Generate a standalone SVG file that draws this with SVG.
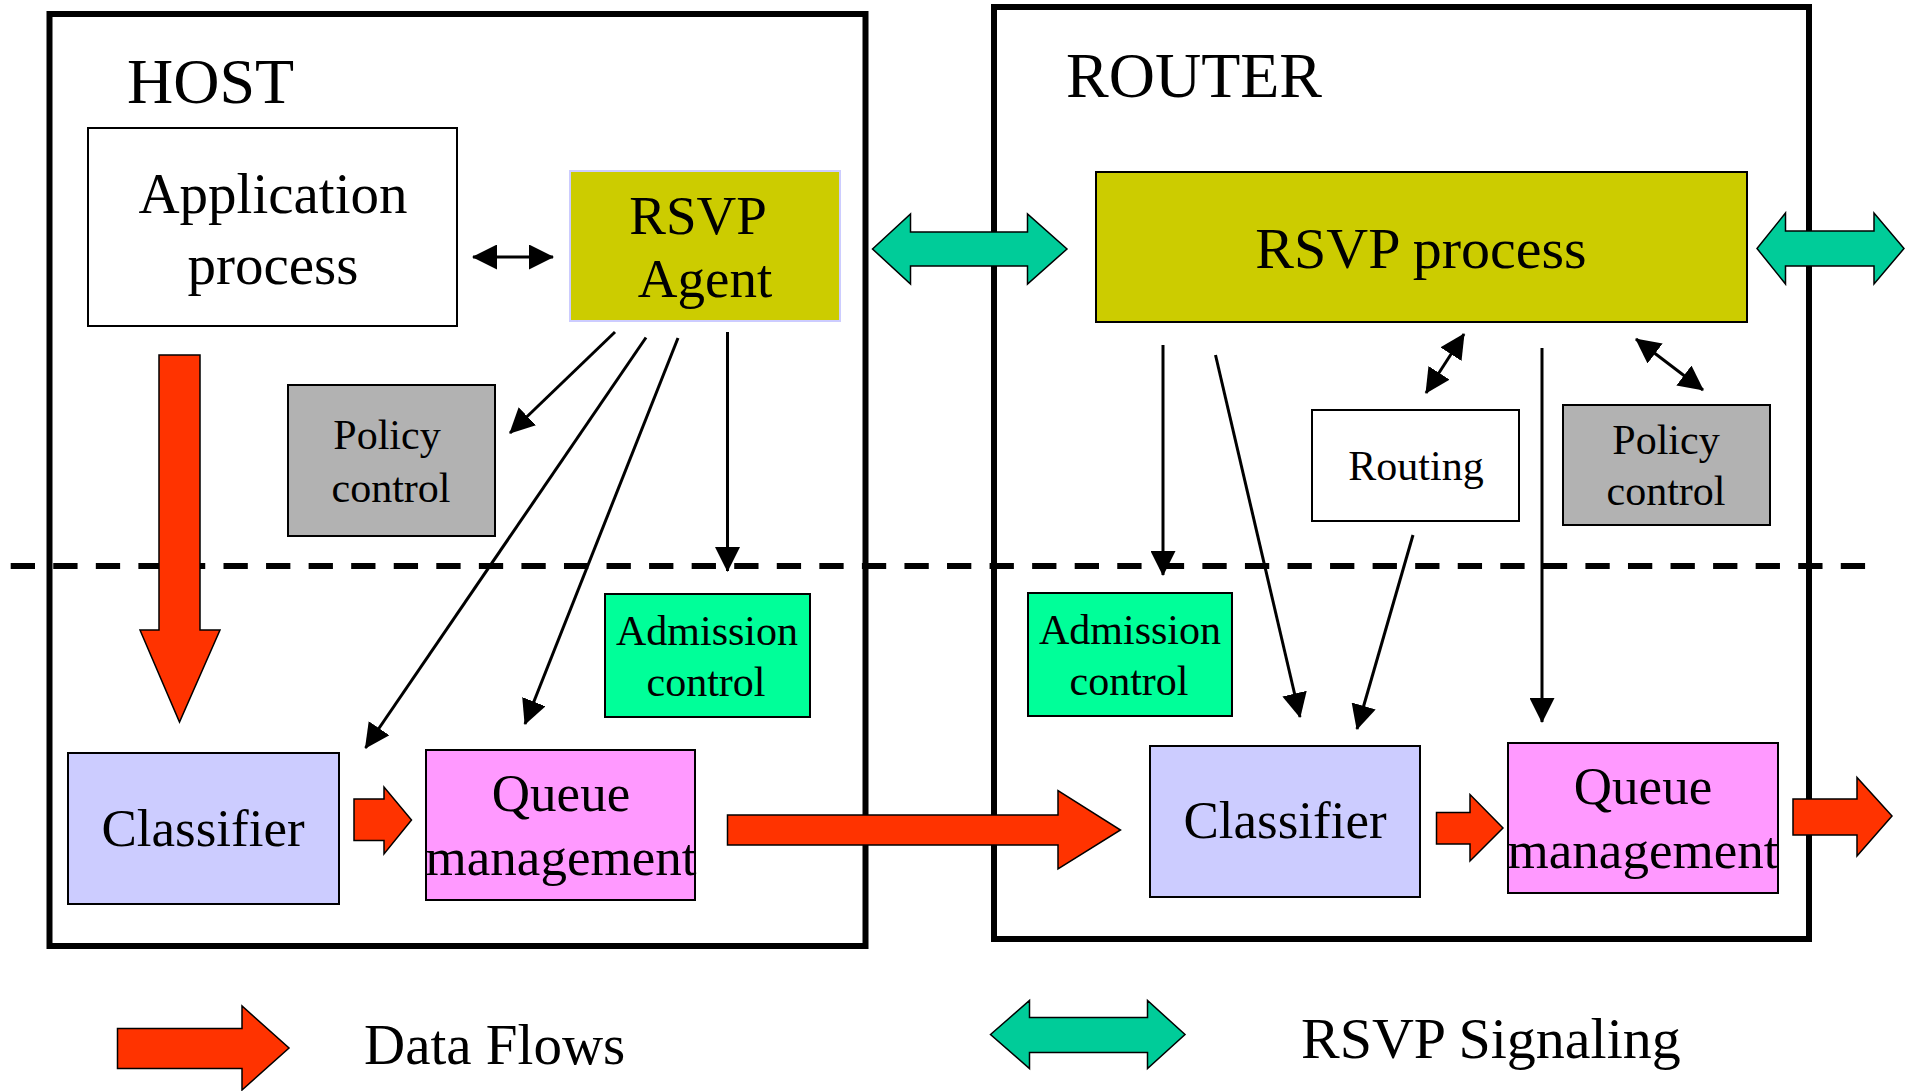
<svg xmlns="http://www.w3.org/2000/svg" width="1914" height="1091" viewBox="0 0 1914 1091">
  <style>
    text { font-family: "Liberation Serif", "Times New Roman", serif; fill: #000; }
    .frame { fill: none; stroke: #000; stroke-width: 6; }
    .box { stroke: #000; stroke-width: 2; }
    .lbl { text-anchor: middle; }
    .title { font-size: 64px; }
    .big { font-size: 57px; }
    .mid { font-size: 53px; }
    .small { font-size: 42px; }
    .link { stroke: #000; stroke-width: 3; fill: none; }
    .one { marker-end: url(#head); }
    .two { marker-start: url(#head); marker-end: url(#head); }
    .data { fill: #FF3300; stroke: #000; stroke-width: 1.5; }
    .signal { fill: #00CC99; stroke: #000; stroke-width: 1.5; }
  </style>
  <defs>
    <marker id="head" viewBox="0 0 25 25" refX="24" refY="12.5" markerWidth="25" markerHeight="25" markerUnits="userSpaceOnUse" orient="auto-start-reverse">
      <path d="M0,0 L25,12.5 L0,25 z" fill="#000"/>
    </marker>
  </defs>

  <rect width="1914" height="1091" fill="#fff"/>

  <!-- outer frames -->
  <g id="host">
    <rect class="frame" x="49.5" y="14" width="816" height="932"/>
    <text class="title" x="127" y="103">HOST</text>
  </g>
  <g id="router">
    <rect class="frame" x="994" y="7" width="815" height="932"/>
    <text class="title" x="1066" y="97">ROUTER</text>
  </g>

  <!-- boundary between control and data planes -->
  <line x1="10.7" y1="566" x2="1866" y2="566" stroke="#000" stroke-width="6" stroke-dasharray="24.3 18.26"/>

  <!-- host components -->
  <g id="host-app">
    <rect class="box" x="88" y="128" width="369" height="198" fill="#fff"/>
    <text class="lbl big" x="273" y="213">Application</text>
    <text class="lbl big" x="273" y="284">process</text>
  </g>
  <g id="host-rsvp">
    <rect x="570" y="171" width="270" height="150" fill="#CCCC00" stroke="#CCCCFF" stroke-width="2"/>
    <text class="lbl" x="698" y="234" font-size="55">RSVP</text>
    <text class="lbl" x="705" y="297" font-size="55">Agent</text>
  </g>
  <g id="host-policy">
    <rect class="box" x="288" y="385" width="207" height="151" fill="#B2B2B2"/>
    <text class="lbl small" x="387" y="449">Policy</text>
    <text class="lbl small" x="391" y="502">control</text>
  </g>
  <g id="host-admission">
    <rect class="box" x="605" y="594" width="205" height="123" fill="#00FF99"/>
    <text class="lbl small" x="707" y="645">Admission</text>
    <text class="lbl small" x="706" y="696">control</text>
  </g>
  <g id="host-classifier">
    <rect class="box" x="68" y="753" width="271" height="151" fill="#CCCCFF"/>
    <text class="lbl mid" x="203" y="846">Classifier</text>
  </g>
  <g id="host-queue">
    <rect class="box" x="426" y="750" width="269" height="150" fill="#FF99FF"/>
    <text class="lbl mid" x="561" y="811">Queue</text>
    <text class="lbl mid" x="561" y="875">management</text>
  </g>

  <!-- router components -->
  <g id="router-rsvp">
    <rect class="box" x="1096" y="172" width="651" height="150" fill="#CCCC00"/>
    <text class="lbl" x="1421" y="268" font-size="58">RSVP process</text>
  </g>
  <g id="router-routing">
    <rect class="box" x="1312" y="410" width="207" height="111" fill="#fff"/>
    <text class="lbl small" x="1416" y="480">Routing</text>
  </g>
  <g id="router-policy">
    <rect class="box" x="1563" y="405" width="207" height="120" fill="#B2B2B2"/>
    <text class="lbl small" x="1666" y="454">Policy</text>
    <text class="lbl small" x="1666" y="505">control</text>
  </g>
  <g id="router-admission">
    <rect class="box" x="1028" y="593" width="204" height="123" fill="#00FF99"/>
    <text class="lbl small" x="1130" y="644">Admission</text>
    <text class="lbl small" x="1129" y="695">control</text>
  </g>
  <g id="router-classifier">
    <rect class="box" x="1150" y="746" width="270" height="151" fill="#CCCCFF"/>
    <text class="lbl mid" x="1285" y="838">Classifier</text>
  </g>
  <g id="router-queue">
    <rect class="box" x="1508" y="743" width="270" height="150" fill="#FF99FF"/>
    <text class="lbl mid" x="1643" y="804">Queue</text>
    <text class="lbl mid" x="1643" y="868">management</text>
  </g>

  <!-- connectors -->
  <g id="connectors">
    <!-- control interactions -->
    <line class="link two" x1="473" y1="257" x2="553" y2="257"/>
    <line class="link one" x1="615" y1="332" x2="510" y2="433"/>
    <line class="link one" x1="646" y1="337.5" x2="365.5" y2="748"/>
    <line class="link one" x1="678" y1="338" x2="525" y2="724"/>
    <line class="link one" x1="727.5" y1="332" x2="727.5" y2="571"/>
    <line class="link one" x1="1163" y1="345" x2="1163" y2="575"/>
    <line class="link one" x1="1215.5" y1="355" x2="1300" y2="717"/>
    <line class="link one" x1="1413" y1="535" x2="1357" y2="729"/>
    <line class="link one" x1="1542" y1="348" x2="1542" y2="722"/>
    <line class="link two" x1="1464" y1="334" x2="1426" y2="393"/>
    <line class="link two" x1="1636" y1="339" x2="1703" y2="390"/>

    <!-- data flows -->
    <polygon class="data" points="159,355 200,355 200,630 220,630 179.5,722 140,630 159,630"/>
    <polygon class="data" points="354,799 384,799 384,787 411.5,820 384,854 384,840.5 354,840.5"/>
    <polygon class="data" points="727.5,815 1058,815 1058,790.5 1120.5,830 1058,869 1058,845 727.5,845"/>
    <polygon class="data" points="1436.5,812.5 1470,812.5 1470,794.5 1503,828 1470,861 1470,844 1436.5,844"/>
    <polygon class="data" points="1793,799 1857,799 1857,777.5 1892,816 1857,856 1857,835 1793,835"/>

    <!-- RSVP signaling -->
    <polygon class="signal" points="872.5,249 910.5,214 910.5,232 1027.5,232 1027.5,214 1067,249 1027.5,284 1027.5,266 910.5,266 910.5,284"/>
    <polygon class="signal" points="1757,248.5 1785.5,213 1785.5,231 1874,231 1874,213 1904,248.5 1874,284 1874,266 1785.5,266 1785.5,284"/>
  </g>

  <!-- key -->
  <g id="legend-data">
    <polygon class="data" points="117.5,1028.5 242,1028.5 242,1006 289,1048 242,1090 242,1068.5 117.5,1068.5"/>
    <text x="364" y="1064" font-size="57">Data Flows</text>
  </g>
  <g id="legend-signal">
    <polygon class="signal" points="990.5,1034.5 1029.5,1000.5 1029.5,1017.5 1147.5,1017.5 1147.5,1000.5 1185,1034.5 1147.5,1068.5 1147.5,1052.5 1029.5,1052.5 1029.5,1068.5"/>
    <text x="1301" y="1058" font-size="58">RSVP Signaling</text>
  </g>
</svg>
